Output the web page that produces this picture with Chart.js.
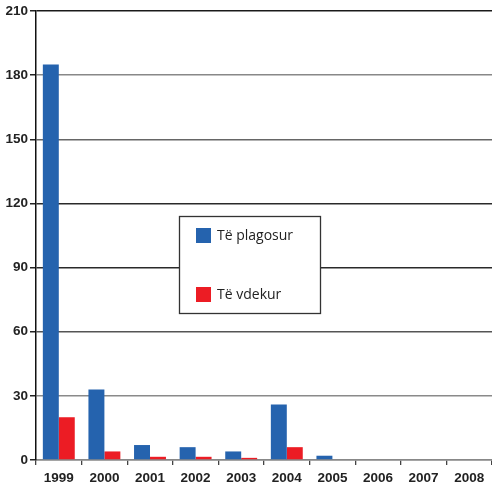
<!DOCTYPE html>
<html>
<head>
<meta charset="utf-8">
<script src="https://cdn.jsdelivr.net/npm/chart.js@4"></script>
<style>
html,body{margin:0;padding:0;background:#fff;}
#wrap{width:492px;height:486px;position:relative;}
</style>
</head>
<body>
<div id="wrap"><canvas id="c" width="492" height="486"></canvas></div>
<script>
const categories = ["1999","2000","2001","2002","2003","2004","2005","2006","2007","2008"];
const injured = [185, 33, 7, 6, 4, 26, 2, 0, 0, 0];
const killed = [20, 4, 1.5, 1.5, 1, 6, 0, 0, 0, 0];
const seriesLabels = ["Të plagosur", "Të vdekur"];
const yTicks = [0, 30, 60, 90, 120, 150, 180, 210];
const gridColors = {0:"#888", 30:"#8a8a8a", 60:"#555", 90:"#2a2a2a", 120:"#2a2a2a", 150:"#666", 180:"#888", 210:"#1a1a1a"};

const boxLegend = {
  id: 'boxLegend',
  afterDatasetsDraw(chart) {
    const ctx = chart.ctx;
    const x = 179.5, y = 216.5, w = 141, h = 97;
    ctx.save();
    ctx.fillStyle = '#fff';
    ctx.fillRect(x, y, w, h);
    ctx.strokeStyle = '#333';
    ctx.lineWidth = 1.3;
    ctx.strokeRect(x, y, w, h);
    const rows = [236, 295];
    chart.data.datasets.forEach((ds, i) => {
      ctx.fillStyle = ds.backgroundColor;
      ctx.fillRect(196, rows[i] - 8, 15, 15);
      ctx.fillStyle = '#222';
      ctx.font = '14px "Open Sans", sans-serif';
      ctx.textBaseline = 'middle';
      ctx.textAlign = 'left';
      ctx.fillText(ds.label, 217, rows[i]);
    });
    ctx.restore();
  }
};

new Chart(document.getElementById('c'), {
  type: 'bar',
  data: {
    labels: categories,
    datasets: [
      { label: seriesLabels[0], data: injured, backgroundColor: '#2563ae', categoryPercentage: 0.7, barPercentage: 1.0 },
      { label: seriesLabels[1], data: killed, backgroundColor: '#ec1c24', categoryPercentage: 0.7, barPercentage: 1.0 }
    ]
  },
  options: {
    responsive: false,
    animation: false,
    devicePixelRatio: 1,
    layout: { padding: { top: 11, right: 0, left: 0, bottom: 0 } },
    plugins: { legend: { display: false }, tooltip: { enabled: false } },
    scales: {
      x: {
        grid: { drawOnChartArea: false, drawTicks: true, tickLength: 5, color: '#444', lineWidth: 1.3 },
        border: { display: true, color: '#888', width: 1.5 },
        ticks: { color: '#222', font: { family: '"Liberation Sans", Arial, sans-serif', size: 13.5, weight: 'bold' }, padding: 5, maxRotation: 0 },
        afterFit(s) { s.height = 26; }
      },
      y: {
        min: 0, max: 210,
        afterBuildTicks(s) { s.ticks = yTicks.map(v => ({ value: v })); },
        grid: {
          color: c => gridColors[c.tick ? c.tick.value : 0] || '#888',
          lineWidth: 1.5,
          drawTicks: true,
          tickLength: 6,
          tickColor: '#222'
        },
        border: { display: true, color: '#111', width: 1.5 },
        ticks: { color: '#222', font: { family: '"Liberation Sans", Arial, sans-serif', size: 13.5, weight: 'bold' }, padding: 2 },
        afterFit(s) { s.width = 36; }
      }
    }
  },
  plugins: [boxLegend]
});
</script>
</body>
</html>
